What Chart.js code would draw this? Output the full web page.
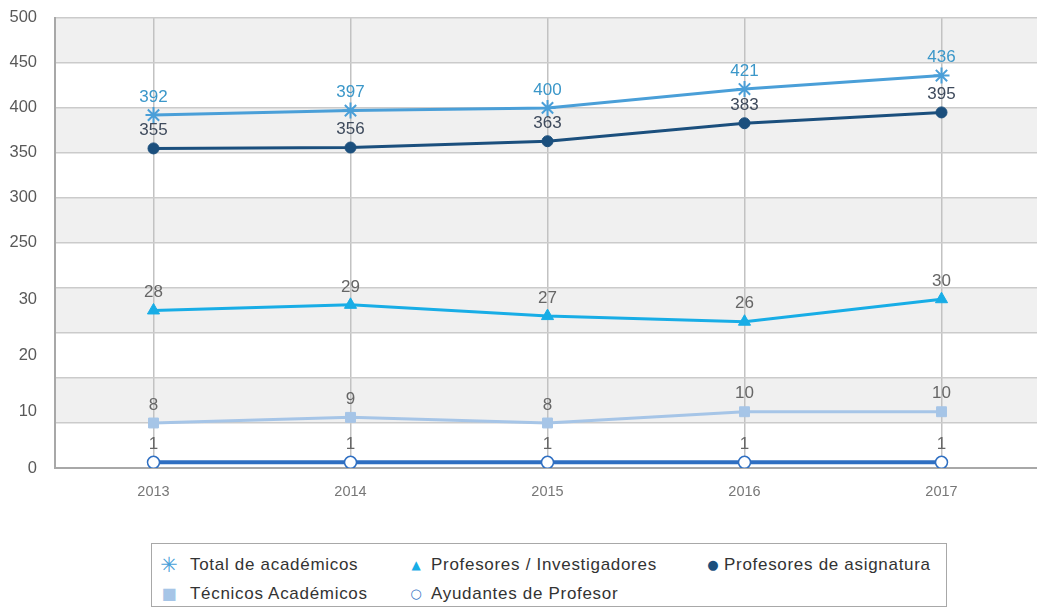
<!DOCTYPE html>
<html>
<head>
<meta charset="utf-8">
<script src="https://cdn.jsdelivr.net/npm/chart.js@4.4.1/dist/chart.umd.min.js"></script>
<style>
  body { margin: 0; background: #fff; overflow: hidden; font-family: "Liberation Sans", Arial, sans-serif; }
  #wrap { position: relative; top: -10px; width: 1050px; height: 520px; }
  #legend {
    position: absolute; left: 151px; top: 543px; width: 796px; height: 64px;
    border: 1.5px solid #a8a8a8; box-sizing: border-box;
  }
  .item { position: absolute; font-size: 17px; letter-spacing: 0.7px; color: #333; white-space: nowrap; line-height: 20px; }
  .mark { position: absolute; font-family: "DejaVu Sans", sans-serif; text-align: center; width: 20px; line-height: 20px; }
</style>
</head>
<body>
<div id="wrap"><canvas id="chart"></canvas></div>
<div id="legend"></div>
<script>
// Years
const years = ["2013", "2014", "2015", "2016", "2017"];

// Series values
const totalAcademicos = [392, 397, 400, 421, 436];
const profInvestigadores = [28, 29, 27, 26, 30];
const profAsignatura = [355, 356, 363, 383, 395];
const tecnicosAcademicos = [8, 9, 8, 10, 10];
const ayudantesProfesor = [1, 1, 1, 1, 1];

// Y tick labels (broken axis)
const yTickLabels = [0, 10, 20, 30, 250, 300, 350, 400, 450, 500];

// broken axis: 0-30 on the lower part, 250-500 on the upper part
function toAxis(v) {
  if (v <= 30) return v / 8;
  if (v >= 250) return v / 50;
  return 3.75 + (v - 30) / 220 * 1.25;
}

const series = [
  { label: "Total de académicos", values: totalAcademicos, color: "#4a9fd8", labelColor: "#3b97c9", style: "star", radius: 8, mark: "\u2733", markSize: 21 },
  { label: "Profesores / Investigadores", values: profInvestigadores, color: "#18ade6", labelColor: "#666", style: "triangle", radius: 7, mark: "\u25B2", markSize: 12 },
  { label: "Profesores de asignatura", values: profAsignatura, color: "#1b4f7d", labelColor: "#3e4a5c", style: "circle", radius: 5.5, mark: "\u25CF", markSize: 13 },
  { label: "Técnicos Académicos", values: tecnicosAcademicos, color: "#a6c5e7", labelColor: "#666", style: "rect", radius: 7, mark: "\u25A0", markSize: 16 },
  { label: "Ayudantes de Profesor", values: ayudantesProfesor, color: "#2f6fc2", labelColor: "#666", style: "circle", radius: 6, open: true, mark: "\u25CB", markSize: 13 }
];

const datasets = series.map(s => ({
  label: s.label,
  data: s.values.map(toAxis),
  borderColor: s.color,
  backgroundColor: s.open ? "#fff" : s.color,
  borderWidth: s.open ? 4 : 3,
  pointStyle: s.style,
  pointRadius: s.radius,
  pointBorderWidth: s.open ? 1.5 : (s.style === "star" ? 2 : 1),
  pointBorderColor: s.color,
  pointBackgroundColor: s.open ? "#fff" : s.color,
  tension: 0,
  fill: false
}));

// alternating grey bands
const bandsPlugin = {
  id: "bands",
  beforeDraw(chart) {
    const { ctx, chartArea } = chart;
    const y = chart.scales.yg;
    ctx.save();
    ctx.fillStyle = "#f0f0f0";
    for (let i = 1; i < 10; i += 2) {
      const top = y.getPixelForValue(i + 1);
      const bottom = y.getPixelForValue(i);
      ctx.fillRect(chartArea.left, top, chartArea.right - chartArea.left, bottom - top);
    }
    ctx.restore();
  }
};

// value labels above the points
const valueLabels = {
  id: "valueLabels",
  afterDatasetsDraw(chart) {
    const ctx = chart.ctx;
    ctx.save();
    ctx.font = '17px "Liberation Sans", Arial, sans-serif';
    ctx.textAlign = "center";
    ctx.textBaseline = "middle";
    series.forEach((s, di) => {
      const meta = chart.getDatasetMeta(di);
      ctx.fillStyle = s.labelColor;
      meta.data.forEach((pt, i) => {
        ctx.fillText(String(s.values[i]), pt.x, pt.y - 18);
      });
    });
    ctx.restore();
  }
};

new Chart(document.getElementById("chart"), {
  type: "line",
  data: { labels: years, datasets: datasets },
  options: {
    responsive: true,
    maintainAspectRatio: false,
    animation: false,
    layout: { padding: { top: 8, right: 4, left: 0, bottom: 0 } },
    plugins: { legend: { display: false }, tooltip: { enabled: false } },
    scales: {
      x: {
        offset: true,
        grid: { display: true, offset: false, drawTicks: false, color: "#c2c2c2", lineWidth: 1.5 },
        border: { display: true, color: "#a8a8a8", width: 2 },
        ticks: { color: "#777", font: { size: 14.5, family: "Liberation Sans" }, padding: 15 },
        afterFit(scale) { scale.height = 42; }
      },
      y: {
        position: "left",
        min: 0,
        max: 10,
        grid: { display: false, drawTicks: false },
        border: { display: true, color: "#a8a8a8", width: 2 },
        ticks: {
          autoSkip: false,
          color: "#595959",
          padding: 18,
          font: { size: 16.5, family: "Liberation Sans" },
          callback: (val, i) => String(yTickLabels[i])
        },
        afterBuildTicks(scale) {
          scale.ticks = yTickLabels.map(v => ({ value: toAxis(v) }));
        },
        afterFit(scale) { scale.width = 55; }
      },
      yg: {
        position: "right",
        min: 0,
        max: 10,
        ticks: { display: false, stepSize: 1 },
        grid: { display: true, drawTicks: false, color: "#cbcbcb", lineWidth: 1.5 },
        border: { display: false },
        afterFit(scale) { scale.width = 0; }
      }
    }
  },
  plugins: [bandsPlugin, valueLabels]
});

// legend in two rows, three columns
const legend = document.getElementById("legend");
const cols = [{ mark: 17, text: 38 }, { mark: 264, text: 279 }, { mark: 561, text: 572 }];
const rows = [11, 40];
series.forEach((s, i) => {
  const col = cols[i % 3];
  const row = rows[Math.floor(i / 3)];
  const m = document.createElement("span");
  m.className = "mark";
  m.textContent = s.mark;
  m.style.color = s.color;
  m.style.fontSize = s.markSize + "px";
  m.style.left = (col.mark - 10) + "px";
  m.style.top = row + "px";
  legend.appendChild(m);
  const t = document.createElement("span");
  t.className = "item";
  t.textContent = s.label;
  t.style.left = col.text + "px";
  t.style.top = row + "px";
  legend.appendChild(t);
});
</script>
</body>
</html>
